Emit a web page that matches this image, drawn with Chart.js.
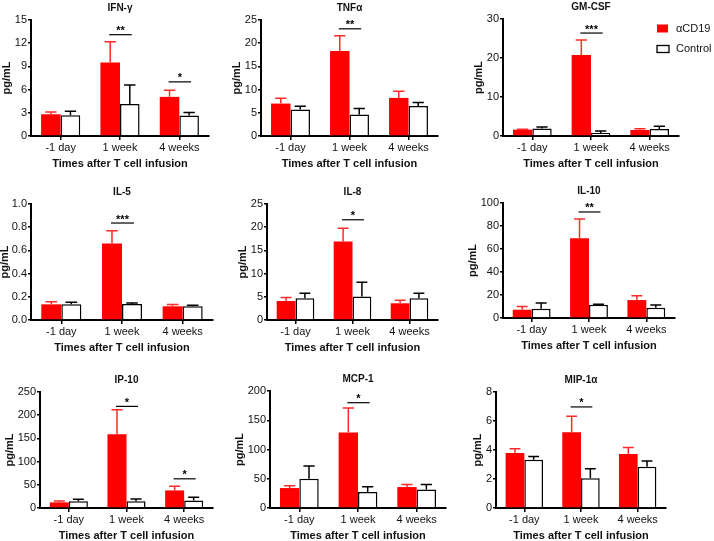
<!DOCTYPE html>
<html><head><meta charset="utf-8">
<script src="https://cdn.jsdelivr.net/npm/chart.js@4/dist/chart.umd.min.js"></script>
<style>
html,body{margin:0;padding:0;background:#fff;width:714px;height:541px;overflow:hidden}
canvas{position:absolute;left:0;top:0}
</style></head><body>
<script>
// ---------- DATA ----------
const categories = ['-1 day', '1 week', '4 weeks'];
const seriesNames = ['\u03b1CD19', 'Control'];
const yTitle = 'pg/mL';
const xTitle = 'Times after T cell infusion';

// IFN-γ
const ifngCd19 = [2.81, 9.51, 5.06];
const ifngCd19Sem = [0.30, 2.68, 0.86];
const ifngCtrl = [2.68, 4.15, 2.64];
const ifngCtrlSem = [0.52, 2.46, 0.39];
const ifngSig = [[1, '**', 13.1], [2, '*', 7.0]];
const ifngTicks = [0, 15, 3];

// TNFα
const tnfCd19 = [6.99, 18.3, 8.21];
const tnfCd19Sem = [1.15, 3.3, 1.44];
const tnfCtrl = [5.69, 4.61, 6.48];
const tnfCtrlSem = [0.72, 1.29, 0.72];
const tnfSig = [[1, '**', 23.1]];
const tnfTicks = [0, 25, 5];

// GM-CSF
const gmCd19 = [1.63, 20.8, 1.55];
const gmCd19Sem = [0.1, 3.8, 0.3];
const gmCtrl = [1.9, 0.77, 1.8];
const gmCtrlSem = [0.4, 0.5, 0.7];
const gmSig = [[1, '***', 26.4]];
const gmTicks = [0, 30, 10];

// IL-5
const il5Cd19 = [0.135, 0.66, 0.118];
const il5Cd19Sem = [0.023, 0.11, 0.015];
const il5Ctrl = [0.135, 0.138, 0.118];
const il5CtrlSem = [0.018, 0.009, 0.009];
const il5Sig = [[1, '***', 0.836]];
const il5Ticks = [0, 1.0, 0.2];

// IL-8
const il8Cd19 = [4.1, 16.9, 3.6];
const il8Cd19Sem = [0.73, 2.9, 0.65];
const il8Ctrl = [4.68, 5.04, 4.68];
const il8CtrlSem = [1.08, 3.1, 1.08];
const il8Sig = [[1, '*', 21.6]];
const il8Ticks = [0, 25, 5];

// IL-10
const il10Cd19 = [7.2, 69.3, 15.6];
const il10Cd19Sem = [2.9, 16.8, 3.8];
const il10Ctrl = [8.1, 11.6, 9.0];
const il10CtrlSem = [4.9, 0.3, 2.3];
const il10Sig = [[1, '**', 92.2]];
const il10Ticks = [0, 100, 20];

// IP-10
const ip10Cd19 = [12.1, 159, 37.9];
const ip10Cd19Sem = [2.9, 53, 9.1];
const ip10Ctrl = [14.3, 14.3, 16.4];
const ip10CtrlSem = [4.3, 5.0, 6.5];
const ip10Sig = [[1, '*', 219], [2, '*', 62.9]];
const ip10Ticks = [0, 250, 50];

// MCP-1
const mcpCd19 = [34.1, 129, 35.8];
const mcpCd19Sem = [3.9, 42, 4.5];
const mcpCtrl = [50, 27.3, 31.8];
const mcpCtrlSem = [21.6, 9.1, 8.5];
const mcpSig = [[1, '*', 180]];
const mcpTicks = [0, 200, 50];

// MIP-1α
const mipCd19 = [3.79, 5.22, 3.72];
const mipCd19Sem = [0.30, 1.10, 0.46];
const mipCtrl = [3.33, 2.05, 2.85];
const mipCtrlSem = [0.23, 0.66, 0.39];
const mipSig = [[1, '*', 6.97]];
const mipTicks = [0, 8, 2];

// ---------- PANELS (data + placement) ----------
const panels = [
  {title: 'IFN-\u03b3', a: ifngCd19, ae: ifngCd19Sem, b: ifngCtrl, be: ifngCtrlSem, sig: ifngSig, t: ifngTicks, dec: 0, box: [31, 20, 209, 136]},
  {title: 'TNF\u03b1', a: tnfCd19, ae: tnfCd19Sem, b: tnfCtrl, be: tnfCtrlSem, sig: tnfSig, t: tnfTicks, dec: 0, box: [261, 20, 438, 136]},
  {title: 'GM-CSF', a: gmCd19, ae: gmCd19Sem, b: gmCtrl, be: gmCtrlSem, sig: gmSig, t: gmTicks, dec: 0, box: [503, 19, 679, 136], legend: true},
  {title: 'IL-5', a: il5Cd19, ae: il5Cd19Sem, b: il5Ctrl, be: il5CtrlSem, sig: il5Sig, t: il5Ticks, dec: 1, box: [31, 204, 213, 320]},
  {title: 'IL-8', a: il8Cd19, ae: il8Cd19Sem, b: il8Ctrl, be: il8CtrlSem, sig: il8Sig, t: il8Ticks, dec: 0, box: [267, 204, 438, 320]},
  {title: 'IL-10', a: il10Cd19, ae: il10Cd19Sem, b: il10Ctrl, be: il10CtrlSem, sig: il10Sig, t: il10Ticks, dec: 0, box: [503, 203, 675, 318]},
  {title: 'IP-10', a: ip10Cd19, ae: ip10Cd19Sem, b: ip10Ctrl, be: ip10CtrlSem, sig: ip10Sig, t: ip10Ticks, dec: 0, box: [40, 392, 213, 508]},
  {title: 'MCP-1', a: mcpCd19, ae: mcpCd19Sem, b: mcpCtrl, be: mcpCtrlSem, sig: mcpSig, t: mcpTicks, dec: 0, box: [270, 391, 446, 508]},
  {title: 'MIP-1\u03b1', a: mipCd19, ae: mipCd19Sem, b: mipCtrl, be: mipCtrlSem, sig: mipSig, t: mipTicks, dec: 0, box: [496, 392, 666, 508]}
];

const FONT = "'Liberation Sans', Arial, sans-serif";
const W = 714, H = 541, YW = 30, XH = 22;

const decor = {
  id: 'decor',
  afterDraw(chart, args, o) {
    const ctx = chart.ctx, a = chart.chartArea, ys = chart.scales.y;
    ctx.save();
    // error bars
    chart.data.datasets.forEach((ds, di) => {
      const meta = chart.getDatasetMeta(di);
      meta.data.forEach((bar, i) => {
        const y0 = ys.getPixelForValue(ds.data[i]);
        const y1 = ys.getPixelForValue(ds.data[i] + ds.sem[i]);
        const hw = bar.width * 0.29;
        ctx.strokeStyle = ds.errColor;
        ctx.lineWidth = 1.5;
        ctx.beginPath();
        ctx.moveTo(bar.x, y0); ctx.lineTo(bar.x, y1);
        ctx.moveTo(bar.x - hw, y1); ctx.lineTo(bar.x + hw, y1);
        ctx.stroke();
      });
    });
    // significance
    const m0 = chart.getDatasetMeta(0), m1 = chart.getDatasetMeta(1);
    o.sig.forEach(([idx, label, v]) => {
      const x1 = m0.data[idx].x - 1, x2 = m1.data[idx].x + 2, y = ys.getPixelForValue(v);
      ctx.strokeStyle = '#000'; ctx.lineWidth = 1.2;
      ctx.beginPath(); ctx.moveTo(x1, y); ctx.lineTo(x2, y); ctx.stroke();
      ctx.fillStyle = '#000';
      ctx.font = 'bold 11px ' + FONT;
      ctx.textAlign = 'center'; ctx.textBaseline = 'alphabetic';
      ctx.fillText(label, (x1 + x2) / 2, y - 0.5);
    });
    // title
    const cx = (a.left + a.right) / 2;
    ctx.fillStyle = '#111';
    ctx.font = 'bold 10px ' + FONT;
    ctx.textAlign = 'center'; ctx.textBaseline = 'middle';
    ctx.fillText(o.title, cx, a.top - 12);
    // x title
    ctx.font = 'bold 11px ' + FONT;
    ctx.fillText(xTitle, cx, a.bottom + 28);
    // y title
    ctx.font = '11px ' + FONT;
    let mw = 0;
    ys.ticks.forEach(t => { mw = Math.max(mw, ctx.measureText(String(t.label)).width); });
    const tx = Math.max(5, a.left - 4 - mw - 8);
    ctx.font = 'bold 11px ' + FONT;
    ctx.save();
    ctx.translate(tx, (a.top + a.bottom) / 2);
    ctx.rotate(-Math.PI / 2);
    ctx.fillText(yTitle, 0, 0);
    ctx.restore();
    // legend
    if (o.legend) {
      const ds = chart.data.datasets;
      const lx = 657, rows = [28.5, 48.5];
      ds.forEach((d, i) => {
        const y = rows[i];
        if (i === 0) {
          ctx.fillStyle = d.backgroundColor;
          ctx.fillRect(lx, y - 4, 11, 8);
        } else {
          ctx.fillStyle = '#fff';
          ctx.fillRect(lx, y - 3, 12, 7);
          ctx.strokeStyle = '#000'; ctx.lineWidth = 1.3;
          ctx.strokeRect(lx, y - 3, 12, 7);
        }
        ctx.fillStyle = '#111';
        ctx.font = '11px ' + FONT;
        ctx.textAlign = 'left'; ctx.textBaseline = 'middle';
        ctx.fillText(d.label, 676, y);
      });
    }
    ctx.restore();
  }
};

panels.forEach(p => {
  const cv = document.createElement('canvas');
  cv.width = W; cv.height = H;
  cv.style.width = W + 'px'; cv.style.height = H + 'px';
  document.body.appendChild(cv);
  const [L, T, R, B] = p.box;
  new Chart(cv, {
    type: 'bar',
    data: {
      labels: categories,
      datasets: [
        {label: seriesNames[0], data: p.a, sem: p.ae, backgroundColor: '#ff0000', borderWidth: 0,
         errColor: '#ff2b2b', categoryPercentage: 0.66, barPercentage: 1.0},
        {label: seriesNames[1], data: p.b, sem: p.be, backgroundColor: '#ffffff', borderColor: '#000',
         borderWidth: 1.5, errColor: '#000', categoryPercentage: 0.66, barPercentage: 1.0}
      ]
    },
    options: {
      responsive: false, animation: false, devicePixelRatio: 1,
      layout: {padding: {left: L - YW, right: W - R, top: T, bottom: H - B - XH}},
      plugins: {
        legend: {display: false}, tooltip: {enabled: false}, title: {display: false},
        decor: {title: p.title, sig: p.sig, legend: !!p.legend}
      },
      scales: {
        x: {
          offset: true,
          afterFit: s => { s.height = XH; },
          ticks: {color: '#111', font: {family: FONT, size: 11}, padding: 1, maxRotation: 0, autoSkip: false},
          grid: {offset: false, drawOnChartArea: false, drawTicks: true, tickLength: 4, color: '#000', lineWidth: 1.5},
          border: {display: true, color: '#000', width: 2}
        },
        y: {
          min: p.t[0], max: p.t[1],
          afterFit: s => { s.width = YW; },
          ticks: {stepSize: p.t[2], color: '#111', font: {family: FONT, size: 11}, padding: 1,
                  callback: v => Number(v).toFixed(p.dec)},
          grid: {drawOnChartArea: false, drawTicks: true, tickLength: 3, color: '#000', lineWidth: 1.5},
          border: {display: true, color: '#000', width: 2}
        }
      }
    },
    plugins: [decor]
  });
});
</script>
</body></html>
